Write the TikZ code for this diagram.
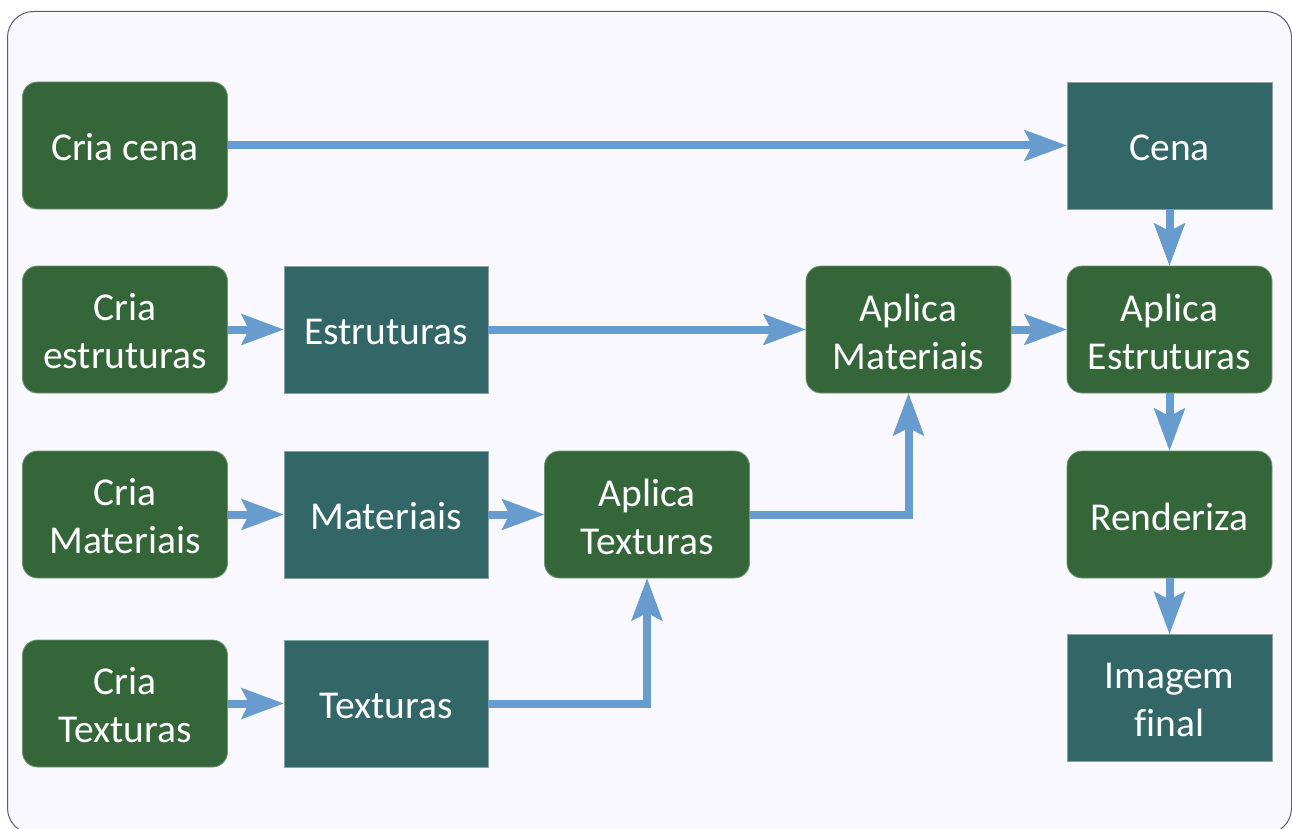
\documentclass[tikz,border=0pt]{standalone}
\usepackage{fontspec}
\setmainfont[Ligatures=NoCommon]{Carlito}
\usetikzlibrary{arrows.meta}
\definecolor{gbox}{HTML}{35663A}
\definecolor{tbox}{HTML}{336666}
\definecolor{arr}{HTML}{689CCF}
\definecolor{bg}{HTML}{F8F8FE}
\definecolor{frame}{HTML}{5A5A88}
\tikzset{
  base/.style={minimum width=205pt, minimum height=127pt, inner sep=0pt, outer sep=0pt,
    text=white, align=center, font=\fontsize{39.5}{48}\selectfont, line width=0.8pt},
  gnode/.style={base, fill=gbox, draw=gbox!70!white, rounded corners=15pt},
  tnode/.style={base, fill=tbox, draw=tbox!60!white},
  conn/.style={draw=arr, line width=8pt, line join=miter,
    -{Stealth[length=42pt, width=30pt, inset=7pt]}},
  lbl/.style={text=white, align=center, font=\fontsize{39.5}{48}\selectfont, inner sep=0pt}
}
\begin{document}
\begin{tikzpicture}[x=1pt,y=-1pt]
\useasboundingbox (0,0) rectangle (1292,829);
\begin{scope}
\clip (0,0) rectangle (1292,829);
\draw[fill=bg, draw=frame, line width=1pt, rounded corners=26pt] (7.5,11.5) rectangle (1291.5,834);
\end{scope}
% column 1
\node[gnode] (criacena) at (125,145.5) {};
\node[gnode] (criaestr) at (125,329.5) {};
\node[gnode] (criamat) at (125,514.5) {};
\node[gnode] (criatex) at (125,703.5) {};
% column 2
\node[tnode, minimum width=204pt] (estr) at (386,329.5) {};
\node[tnode, minimum width=204pt] (mat) at (386,514.5) {};
\node[tnode, minimum width=204pt] (tex) at (386,703.5) {};
% middle
\node[gnode] (aptex) at (647,514.5) {};
\node[gnode] (apmat) at (908.5,329.5) {};
% right column
\node[tnode] (cena) at (1169.5,145.5) {};
\node[gnode] (apestr) at (1169.5,329.5) {};
\node[gnode] (rend) at (1169.5,514.5) {};
\node[tnode] (img) at (1169.5,698) {};
% labels
\node[lbl] (t1) at ([yshift=-2pt]criacena.center) {Cria cena};
\node[lbl] (t2) at ([yshift=-2pt]criaestr.center) {Cria\\estruturas};
\node[lbl] (t3) at ([yshift=-2pt]criamat.center) {Cria\\Materiais};
\node[lbl] (t4) at ([yshift=-2pt]criatex.center) {Cria\\Texturas};
\node[lbl] (t5) at ([yshift=-2pt]estr.center) {Estruturas};
\node[lbl] (t6) at ([yshift=-2pt]mat.center) {Materiais};
\node[lbl] (t7) at ([yshift=-2pt]tex.center) {Texturas};
\node[lbl] (t8) at ([yshift=-2pt]aptex.center) {Aplica\\Texturas};
\node[lbl] (t9) at ([yshift=-2pt]apmat.center) {Aplica\\Materiais};
\node[lbl] (t10) at ([yshift=-2pt]cena.center) {Cena};
\node[lbl] (t11) at ([yshift=-2pt]apestr.center) {Aplica\\Estruturas};
\node[lbl] (t12) at ([yshift=-2pt]rend.center) {Renderiza};
\node[lbl] (t13) at ([yshift=-2pt]img.center) {Imagem\\final};
% connectors
\draw[conn] (criacena) -- (cena);
\draw[conn] (criaestr) -- (estr);
\draw[conn] (estr) -- (apmat);
\draw[conn] (apmat) -- (apestr);
\draw[conn] (cena) -- (apestr);
\draw[conn] (apestr) -- (rend);
\draw[conn] (rend) -- (img);
\draw[conn] (criamat) -- (mat);
\draw[conn] (mat) -- (aptex);
\draw[conn] (aptex.east) -| (apmat.south);
\draw[conn] (criatex) -- (tex);
\draw[conn] (tex.east) -| (aptex.south);
\end{tikzpicture}
\end{document}
